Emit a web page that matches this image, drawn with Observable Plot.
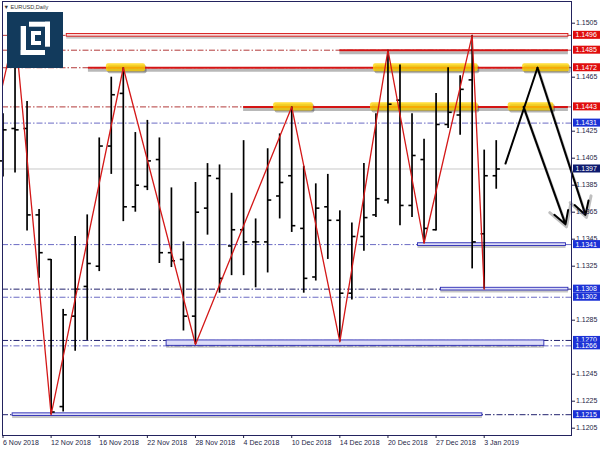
<!DOCTYPE html>
<html><head><meta charset="utf-8">
<script src="https://cdn.jsdelivr.net/npm/d3@7"></script>
<script src="https://cdn.jsdelivr.net/npm/@observablehq/plot@0.6"></script>
<style>
html,body{margin:0;padding:0;background:#fff;}
#chart{position:relative;width:601px;height:449px;overflow:hidden;}
</style></head><body><div id="chart"></div>
<script>
// ---- daily OHLC bars (EURUSD, Daily) ----
const dates = ["2018-11-06","2018-11-07","2018-11-08","2018-11-09","2018-11-12","2018-11-13","2018-11-14","2018-11-15","2018-11-16","2018-11-19","2018-11-20","2018-11-21","2018-11-22","2018-11-23","2018-11-26","2018-11-27","2018-11-28","2018-11-29","2018-11-30","2018-12-03","2018-12-04","2018-12-05","2018-12-06","2018-12-07","2018-12-10","2018-12-11","2018-12-12","2018-12-13","2018-12-14","2018-12-17","2018-12-18","2018-12-19","2018-12-20","2018-12-21","2018-12-24","2018-12-26","2018-12-27","2018-12-28","2018-12-31","2019-01-02","2019-01-03","2019-01-04"];
const open  = [1.1403,1.1427,1.1427,1.1363,1.1330,1.1221,1.1288,1.1310,1.1325,1.1414,1.1453,1.1369,1.1384,1.1404,1.1335,1.1330,1.1288,1.1368,1.1390,1.1340,1.1352,1.1343,1.1343,1.1377,1.1392,1.1353,1.1317,1.1369,1.1359,1.1305,1.1347,1.1363,1.1374,1.1448,1.1370,1.1404,1.1352,1.1430,1.1437,1.1463,1.1349,1.1392];
const high  = [1.1438,1.1500,1.1447,1.1367,1.1330,1.1293,1.1347,1.1363,1.1420,1.1465,1.1472,1.1424,1.1433,1.1420,1.1383,1.1343,1.1387,1.1401,1.1400,1.1379,1.1418,1.1360,1.1412,1.1423,1.1443,1.1399,1.1386,1.1393,1.1366,1.1357,1.1401,1.1438,1.1485,1.1474,1.1438,1.1419,1.1453,1.1472,1.1466,1.1496,1.1411,1.1418];
const low   = [1.1391,1.1394,1.1351,1.1316,1.1215,1.1217,1.1262,1.1270,1.1321,1.1393,1.1358,1.1365,1.1381,1.1327,1.1324,1.1277,1.1267,1.1348,1.1305,1.1318,1.1318,1.1309,1.1320,1.1360,1.1350,1.1305,1.1314,1.1330,1.1269,1.1300,1.1336,1.1361,1.1371,1.1355,1.1361,1.1342,1.1351,1.1427,1.1422,1.1323,1.1308,1.1382];
const close = [1.1426,1.1426,1.1363,1.1335,1.1217,1.1289,1.1308,1.1327,1.1414,1.1452,1.1369,1.1385,1.1403,1.1335,1.1329,1.1288,1.1365,1.1392,1.1316,1.1352,1.1343,1.1343,1.1374,1.1387,1.1355,1.1316,1.1368,1.1359,1.1305,1.1347,1.1361,1.1375,1.1445,1.1370,1.1407,1.1353,1.1430,1.1439,1.1456,1.1343,1.1392,1.1397];

// ---- zigzag swing points (bar index, price) ----
const zigIndex = [-4, 1, 4, 10, 16, 24, 28, 32, 35, 39, 40];
const zigPrice = [1.1302,1.1500,1.1215,1.1472,1.1267,1.1443,1.1269,1.1485,1.1342,1.1496,1.1308];

// ---- axes ----
const xTickIndex  = [0,4,8,12,16,20,24,28,32,36,40];
const xTickLabels = ["6 Nov 2018","12 Nov 2018","16 Nov 2018","22 Nov 2018","28 Nov 2018","4 Dec 2018","10 Dec 2018","14 Dec 2018","20 Dec 2018","27 Dec 2018","3 Jan 2019"];
const yTicks = [1.1505,1.1465,1.1425,1.1405,1.1385,1.1365,1.1345,1.1325,1.1285,1.1245,1.1225,1.1205];

// ---- horizontal levels ----
const redDashLevels  = [1.1496,1.1485,1.1472,1.1443];
const blueDashLevels = [1.1431,1.1341,1.1302,1.1266];
const navyDashLevels = [1.1308,1.1270,1.1215];
const bidPrice = 1.1397;

// solid red resistance lines: price, start bar, end bar
const redLinePrice = [1.1485,1.1472,1.1443];
const redLineFrom  = [28,7.1,20];
const redLineTo    = [47.0,47.0,47.0];
// thin red band
const redBandTop = [1.1497], redBandBottom = [1.1495], redBandFrom = [5.3], redBandTo = [47.0];
// blue support bands
const blueBandTop    = [1.1342,1.1309,1.1270,1.1216];
const blueBandBottom = [1.1340,1.1307,1.1266,1.1214];
const blueBandFrom   = [34.5,36.4,13.6,0.8];
const blueBandTo     = [46.8,47.0,45.0,39.85];
// yellow highlight zones
const zonePrice = [1.1472,1.1472,1.1472,1.1443,1.1443,1.1443];
const zoneFrom  = [8.6,30.8,43.2,22.5,30.55,42.0];
const zoneTo    = [11.85,39.5,47.1,25.8,39.5,45.8];

// projected path arrows (bar index, price)
const legIndex = [41.77, 44.43];
const legPrice = [1.1401, 1.1472];
const arrowFromIndex = [43.27, 44.43];
const arrowFromPrice = [1.1443, 1.1472];
const arrowToIndex   = [46.76, 48.42];
const arrowToPrice   = [1.1356, 1.1363];

// price labels at the right
const labelPrice = [1.1496,1.1485,1.1472,1.1443,1.1431,1.1397,1.1341,1.1308,1.1302,1.1270,1.1266,1.1215];
const labelKind  = ["red","red","red","red","blue","bid","blue","blue","blue","blue","blue","blue"];

// ---- build tables ----
const bars = dates.map((d,i)=>({i, date:d, o:open[i], h:high[i], l:low[i], c:close[i]}));
const zig = zigIndex.map((x,k)=>({x, y:zigPrice[k]}));
const redLines = redLinePrice.map((p,k)=>({p, a:redLineFrom[k], b:redLineTo[k]}));
const redBand = redBandTop.map((t,k)=>({t, bt:redBandBottom[k], a:redBandFrom[k], b:redBandTo[k]}));
const blueBands = blueBandTop.map((t,k)=>({t, bt:blueBandBottom[k], a:blueBandFrom[k], b:blueBandTo[k]}));
const zones = zonePrice.map((p,k)=>({t:p+0.0003, bt:p-0.0003, a:zoneFrom[k], b:zoneTo[k]}));
const leg = legIndex.map((x,k)=>({x, y:legPrice[k]}));
const arrows = arrowFromIndex.map((x,k)=>({x1:x, y1:arrowFromPrice[k], x2:arrowToIndex[k], y2:arrowToPrice[k]}));

const dash = "6,2,1.5,2";
const SH = {ariaLabel:"shadow"};
const FONT = "'Liberation Sans', Arial, sans-serif";

const chart = Plot.plot({
  width:601, height:449,
  marginLeft:2, marginRight:30, marginTop:1, marginBottom:14,
  x:{type:"linear", domain:[-0.0416, 47.257], label:null},
  y:{domain:[1.119959, 1.152107], label:null},
  style:{fontFamily:FONT, fontSize:"7px", background:"#fff", overflow:"visible"},
  marks:[
    Plot.ruleY([bidPrice], {stroke:"#c8c8c8", strokeWidth:1}),
    Plot.ruleY(redDashLevels, {stroke:"#b23a3a", strokeWidth:1, strokeDasharray:dash}),
    Plot.ruleY(blueDashLevels, {stroke:"#6a6ac4", strokeWidth:1, strokeDasharray:dash}),
    Plot.ruleY(navyDashLevels, {stroke:"#22226e", strokeWidth:1, strokeDasharray:dash}),
    // shadows
    Plot.ruleY(redLines, {y:"p", x1:"a", x2:"b", stroke:"#000", strokeOpacity:0.28, strokeWidth:3, dy:2.5, ...SH}),
    Plot.rect(redBand, {x1:"a", x2:"b", y1:"t", y2:"bt", fill:"#000", fillOpacity:0.22, dy:2.5, ...SH}),
    Plot.rect(blueBands, {x1:"a", x2:"b", y1:"t", y2:"bt", fill:"#000", fillOpacity:0.22, dy:2.5, ...SH}),
    Plot.rect(zones, {x1:"a", x2:"b", y1:"t", y2:"bt", fill:"#000", fillOpacity:0.3, dx:1.5, dy:2, rx:2, ...SH}),
    // levels
    Plot.ruleY(redLines, {y:"p", x1:"a", x2:"b", stroke:"#d41414", strokeWidth:2}),
    Plot.rect(redBand, {x1:"a", x2:"b", y1:"t", y2:"bt", fill:"#f9dada", stroke:"#d41414", strokeWidth:0.9}),
    Plot.rect(zones, {x1:"a", x2:"b", y1:"t", y2:"bt", fill:"#ffd400", fillOpacity:0.78, rx:2}),
    Plot.rect(blueBands, {x1:"a", x2:"b", y1:"t", y2:"bt", fill:"#dcdcf8", stroke:"#2a2ab4", strokeWidth:0.9}),
    // OHLC bars
    Plot.ruleX(bars, {x:"i", y1:"l", y2:"h", stroke:"#000", strokeWidth:1.7}),
    Plot.link(bars, {x1:d=>d.i-0.3, x2:"i", y1:"o", y2:"o", stroke:"#000", strokeWidth:1.6}),
    Plot.link(bars, {x1:"i", x2:d=>d.i+0.3, y1:"c", y2:"c", stroke:"#000", strokeWidth:1.6}),
    // zigzag
    Plot.line(zig, {x:"x", y:"y", stroke:"#d41818", strokeWidth:1.3, clip:true}),
    // projection arrows
    Plot.line(leg, {x:"x", y:"y", stroke:"#000", strokeOpacity:0.25, strokeWidth:3, dy:2.5, dx:1, ...SH}),
    Plot.arrow(arrows, {x1:"x1", y1:"y1", x2:"x2", y2:"y2", stroke:"#000", strokeOpacity:0.25, strokeWidth:3, headLength:11, dy:2.5, dx:1, ...SH}),
    Plot.line(leg, {x:"x", y:"y", stroke:"#000", strokeWidth:2}),
    Plot.arrow(arrows, {x1:"x1", y1:"y1", x2:"x2", y2:"y2", stroke:"#000", strokeWidth:2, headLength:11}),
    // frame & axes
    Plot.frame({stroke:"#23235e", strokeWidth:1}),
    Plot.axisY({ticks:yTicks, anchor:"right", tickFormat:d3.format(".4f"), tickSize:3, tickPadding:1.5, color:"#1e1e46"}),
    Plot.axisX({ticks:xTickIndex, tickFormat:i=>xTickLabels[xTickIndex.indexOf(i)], textAnchor:"start", tickSize:3, tickPadding:2, color:"#1e1e46"})
  ]
});

const svg = d3.select(chart);
const defs = svg.insert("defs", ":first-child");
defs.append("filter").attr("id","blur").attr("x","-20%").attr("y","-200%").attr("width","140%").attr("height","500%")
  .append("feGaussianBlur").attr("stdDeviation",1.1);
svg.selectAll('g[aria-label="shadow"]').attr("filter","url(#blur)");

// price labels on the right scale
const ys = chart.scale("y");
const fills = {red:"#e00d0d", blue:"#1c32d6", bid:"#0d1a6e"};
const lab = svg.append("g").attr("text-anchor","start");
labelPrice.forEach((p,k)=>{
  const yy = ys.apply(p);
  lab.append("rect").attr("x",573).attr("y",yy-4).attr("width",27).attr("height",8).attr("fill",fills[labelKind[k]]);
  lab.append("text").attr("x",575.5).attr("y",yy).attr("dy","0.36em").attr("fill","#fff").attr("text-anchor","start")
    .attr("font-size","7px").attr("font-family",FONT).text(d3.format(".4f")(p));
});

// title
svg.append("text").attr("x",3.5).attr("y",9).attr("fill","#333").attr("font-size","5.6px").attr("text-anchor","start")
  .attr("font-family",FONT).text("\u25BC EURUSD,Daily");

// logo
const lg = svg.append("g").attr("transform","translate(7,12)");
lg.append("rect").attr("width",56).attr("height",56).attr("fill","#123a5c");
[[13.7,14,5.3,29],[13.7,38,24.3,5],[22,9.7,21,5],[38,9.7,5,25],[24,19,10,14]].forEach(r=>{
  lg.append("rect").attr("x",r[0]).attr("y",r[1]).attr("width",r[2]).attr("height",r[3]).attr("fill","#fff");
});
lg.append("rect").attr("x",28).attr("y",23).attr("width",6).attr("height",6).attr("fill","#123a5c");

document.getElementById("chart").appendChild(chart);
</script></body></html>
